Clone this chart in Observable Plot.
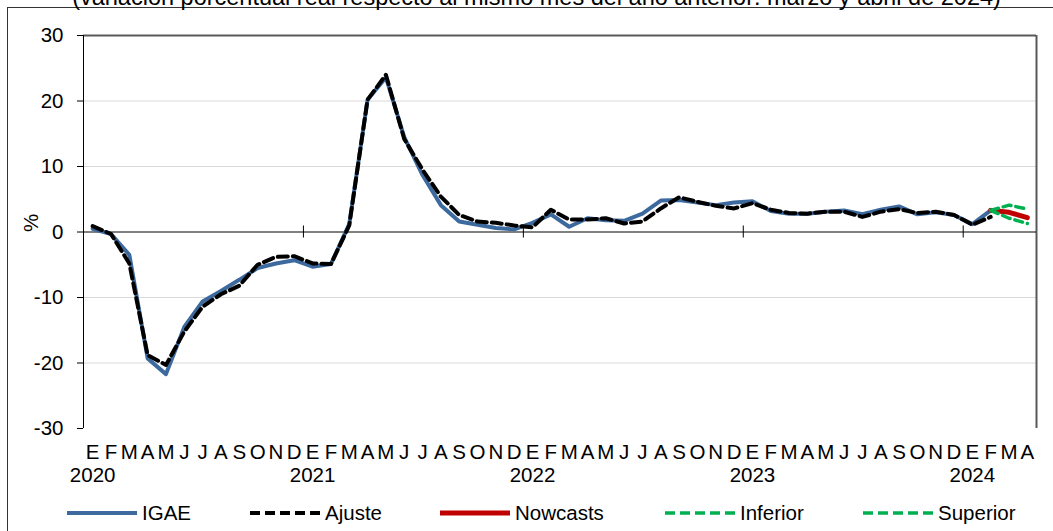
<!DOCTYPE html>
<html>
<head>
<meta charset="utf-8">
<script src="https://cdn.jsdelivr.net/npm/d3@7"></script>
<script src="https://cdn.jsdelivr.net/npm/@observablehq/plot@0.6"></script>
<style>
  body { margin: 0; background: #fff; font-family: "Liberation Sans", Arial, sans-serif; }
  #wrap { position: relative; width: 1053px; height: 531px; overflow: hidden; background: #fff; }
  #border { position: absolute; left: 7px; top: 7px; width: 1100px; height: 600px;
            border-left: 1px solid #333; border-top: 1px solid #333; }
  #subtitle { position: absolute; left: 10px; top: -17px; width: 1053px; text-align: center;
              font-size: 23.5px; line-height: 28px; color: #000; white-space: nowrap; }
  #chart { position: absolute; left: 0; top: 0; }
  #legend { position: absolute; left: 0; top: 495px; width: 1053px; height: 36px; }
</style>
</head>
<body>
<div id="wrap">
  <div id="border"></div>
  <div id="subtitle">(variación porcentual real respecto al mismo mes del año anterior: marzo y abril de 2024)</div>
  <div id="chart"></div>
  <div id="legend"></div>
</div>
<script>
// ---- data ----
const monthLetters = ["E","F","M","A","M","J","J","A","S","O","N","D"];
const yearLabels = ["2020","2021","2022","2023","2024"];
const yTicks = [-30,-20,-10,0,10,20,30];
const nMonths = 52; // Jan 2020 .. Apr 2024

const igae = [
  0.5, -0.3, -3.5, -19.3, -21.7, -14.5, -10.6, -9.0, -7.3, -5.5, -4.8, -4.3,
  -5.3, -4.9, 1.2, 20.2, 23.6, 14.5, 8.7, 4.1, 1.6, 1.1, 0.6, 0.4,
  1.4, 2.7, 0.8, 2.1, 1.8, 1.7, 2.8, 4.8, 4.9, 4.5, 4.1, 4.5,
  4.7, 3.2, 2.8, 2.8, 3.1, 3.3, 2.7, 3.4, 3.9, 2.7, 3.0, 2.6,
  1.2, 3.3
];
const ajuste = [
  0.9, -0.3, -4.8, -18.8, -20.3, -15.2, -11.4, -9.5, -8.2, -5.0, -3.8, -3.7,
  -4.8, -4.9, 1.0, 20.2, 24.0, 14.2, 9.5, 5.4, 2.6, 1.6, 1.4, 1.0,
  0.7, 3.4, 1.9, 1.9, 2.1, 1.3, 1.6, 3.6, 5.3, 4.6, 4.0, 3.6,
  4.4, 3.4, 2.9, 2.8, 3.1, 3.1, 2.3, 3.1, 3.5, 2.9, 3.1, 2.6,
  1.1, 2.3
];
const nowcastStart = 49; // Feb 2024
const nowcasts = [3.3, 3.0, 2.2];
const inferior = [3.3, 2.1, 1.3];
const superior = [3.3, 4.1, 3.5];

const colors = { igae: "#3d6a9e", ajuste: "#000000", nowcasts: "#c00000", band: "#00b050" };

// ---- derived tables ----
const monthTicks = d3.range(nMonths).map(i => ({i, label: monthLetters[i % 12]}));
const yearTicks = yearLabels.map((y, k) => ({i: k * 12, label: y}));
const yearBoundaries = d3.range(1, yearLabels.length).map(k => k * 12 - 0.5);
const series = (arr, start = 0) => arr.map((v, k) => ({i: start + k, v}));

const FS = 20.5;
const chart = Plot.plot({
  width: 1053,
  height: 495,
  marginLeft: 83,
  marginRight: 17,
  marginTop: 35,
  marginBottom: 67,
  style: { fontFamily: "'Liberation Sans', Arial, sans-serif", fontSize: FS + "px", color: "#000", background: "transparent", overflow: "visible" },
  x: { domain: [-0.5, nMonths - 0.5], axis: null },
  y: { domain: [-30, 30], axis: null },
  marks: [
    Plot.gridY([-20, -10, 10, 20], { stroke: "#d9d9d9", strokeOpacity: 1, strokeWidth: 1 }),
    Plot.ruleY([30], { stroke: "#595959", strokeWidth: 2 }),
    Plot.ruleX([nMonths - 0.5], { y1: -30, y2: 30, stroke: "#595959", strokeWidth: 2 }),
    Plot.ruleX([-0.5], { y1: -30, y2: 30, stroke: "#000", strokeWidth: 1 }),
    Plot.ruleY([0], { stroke: "#000", strokeWidth: 1 }),
    Plot.ruleX(yearBoundaries, { y1: -0.92, y2: 0.92, stroke: "#000", strokeWidth: 1 }),
    Plot.axisY(yTicks, { tickSize: 6, tickPadding: 14, tickFormat: d => String(d), label: null, fontSize: FS, stroke: "#000" }),
    Plot.text(["%"], { frameAnchor: "left", dx: -52, rotate: -90, fontSize: FS, fill: "#000" }),
    Plot.line(series(igae), { x: "i", y: "v", stroke: colors.igae, strokeWidth: 4 }),
    Plot.line(series(ajuste), { x: "i", y: "v", stroke: colors.ajuste, strokeWidth: 4, strokeDasharray: "10,5" }),
    Plot.line(series(nowcasts, nowcastStart), { x: "i", y: "v", stroke: colors.nowcasts, strokeWidth: 5 }),
    Plot.line(series(inferior, nowcastStart), { x: "i", y: "v", stroke: colors.band, strokeWidth: 3.5, strokeDasharray: "8,5" }),
    Plot.line(series(superior, nowcastStart), { x: "i", y: "v", stroke: colors.band, strokeWidth: 3.5, strokeDasharray: "8,5" }),
    Plot.text(monthTicks, { x: "i", text: "label", frameAnchor: "bottom", dy: 30, fontSize: FS, fill: "#000" }),
    Plot.text(yearTicks, { x: "i", text: "label", frameAnchor: "bottom", dy: 53, fontSize: FS, fill: "#000" })
  ]
});
document.getElementById("chart").appendChild(chart);

// ---- legend ----
const legendItems = [
  { name: "IGAE", color: colors.igae, dash: null, w: 4, x0: 67 },
  { name: "Ajuste", color: colors.ajuste, dash: "10,5", w: 4, x0: 250 },
  { name: "Nowcasts", color: colors.nowcasts, dash: null, w: 5, x0: 440 },
  { name: "Inferior", color: colors.band, dash: "10,5", w: 3.5, x0: 665 },
  { name: "Superior", color: colors.band, dash: "10,5", w: 3.5, x0: 863 }
];
const lsvg = d3.select("#legend").append("svg").attr("width", 1053).attr("height", 36)
  .style("font-family", "'Liberation Sans', Arial, sans-serif").style("font-size", FS + "px");
for (const it of legendItems) {
  lsvg.append("line").attr("x1", it.x0).attr("x2", it.x0 + 70).attr("y1", 18).attr("y2", 18)
    .attr("stroke", it.color).attr("stroke-width", it.w).attr("stroke-dasharray", it.dash);
  lsvg.append("text").attr("x", it.x0 + 75).attr("y", 18).attr("dy", "0.36em").attr("fill", "#000").text(it.name);
}
</script>
</body>
</html>
